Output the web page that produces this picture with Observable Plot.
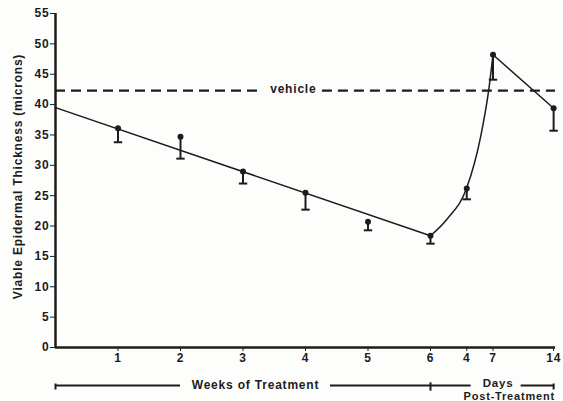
<!DOCTYPE html>
<html>
<head>
<meta charset="utf-8">
<script src="https://cdn.jsdelivr.net/npm/d3@7"></script>
<script src="https://cdn.jsdelivr.net/npm/@observablehq/plot@0.6"></script>
<style>
  html, body { margin: 0; padding: 0; background: #fdfdfc; }
  svg text { letter-spacing: 0.8px; }
</style>
</head>
<body>
<div id="chart"></div>
<script>
// ---- data ----
// axis positions (weeks 1-6, then days 4, 7, 14 post-treatment)
const tickPositions = [1, 2, 3, 4, 5, 6, 6.58, 7.0, 7.97];
const tickLabels    = ["1", "2", "3", "4", "5", "6", "4", "7", "14"];
const yTickValues   = [0, 5, 10, 15, 20, 25, 30, 35, 40, 45, 50, 55];

// mean viable epidermal thickness (microns) and lower error limit
const meanValues  = [36.1, 34.7, 29.0, 25.5, 20.7, 18.4, 26.2, 48.2, 39.4];
const lowerValues = [33.8, 31.1, 27.0, 22.7, 19.3, 17.1, 24.4, 44.1, 35.7];

// fitted treatment trend line
const trendX = [0, 6];
const trendY = [39.5, 18.4];
// recovery curve (traced)
const recoveryX = [6, 6.27, 6.58, 6.8, 6.93, 7.0];
const recoveryY = [18.4, 21.2, 26.3, 34.6, 42.3, 48.2];
// post-treatment decline
const postX = [7.0, 7.97];
const postY = [48.2, 39.4];

// vehicle reference level
const vehicleLevel = 42.3;
const vehicleLabel = "vehicle";
const vehicleSegments = [[0, 3.28], [4.27, 8.0]];

// bottom bracket annotation
const bracketSegments = [[0, 2.0], [4.4, 6.0], [6.0, 6.65], [7.45, 7.97]];
const bracketEnds = [0, 6, 7.97];
const bracketEndSizes = [6.5, 12.5, 6.5];
const yLabel = "Viable Epidermal Thickness (microns)";

// ---- build ----
const points = meanValues.map((v, i) => ({x: tickPositions[i], y: v, lo: lowerValues[i]}));
const toXY = (xs, ys) => xs.map((x, i) => ({x, y: ys[i]}));
const trend = toXY(trendX, trendY);
const recovery = toXY(recoveryX, recoveryY);
const post = toXY(postX, postY);
const vSegs = vehicleSegments.map(([a, b]) => ({x1: a, x2: b, y: vehicleLevel}));
const bSegs = bracketSegments.map(([a, b]) => ({x1: a, x2: b}));
const bEnds = bracketEnds.map((x, i) => ({x, r: bracketEndSizes[i]}));

const hline = {draw(ctx, size) { const r = Math.sqrt(size / Math.PI); ctx.moveTo(-r, 0); ctx.lineTo(r, 0); }};
const vline = {draw(ctx, size) { const r = Math.sqrt(size / Math.PI); ctx.moveTo(0, -r); ctx.lineTo(0, r); }};

const ink = "#1c1c1c";
const zero = () => 0;

const chart = Plot.plot({
  width: 563,
  height: 401,
  marginLeft: 55,
  marginRight: 8,
  marginTop: 13,
  marginBottom: 54,
  style: {fontFamily: "'Liberation Sans', Arial, sans-serif", fontSize: "12px", fontWeight: "bold", color: ink, background: "transparent"},
  x: {domain: [0, 8], ticks: tickPositions, tickFormat: d => tickLabels[tickPositions.indexOf(d)], tickSize: 4, tickPadding: 2, label: null},
  y: {domain: [0, 55], ticks: yTickValues, tickSize: 5, tickPadding: 1, label: null},
  marks: [
    // axis lines
    Plot.ruleX([0], {stroke: ink, strokeWidth: 2.5}),
    Plot.ruleY([0], {stroke: ink, strokeWidth: 2.5}),
    // vehicle dashed line
    Plot.ruleY(vSegs, {y: "y", x1: "x1", x2: "x2", stroke: ink, strokeWidth: 2.2, strokeDasharray: "10,6"}),
    Plot.text([vehicleLabel], {x: (vehicleSegments[0][1] + vehicleSegments[1][0]) / 2 + 0.03, y: vehicleLevel, fill: ink, fontSize: 12, dy: -1}),
    // lines
    Plot.line(trend, {x: "x", y: "y", stroke: ink, strokeWidth: 1.5}),
    Plot.line(recovery, {x: "x", y: "y", stroke: ink, strokeWidth: 1.5, curve: "monotone-x"}),
    Plot.line(post, {x: "x", y: "y", stroke: ink, strokeWidth: 1.5}),
    // error bars
    Plot.ruleX(points, {x: "x", y1: "y", y2: "lo", stroke: ink, strokeWidth: 2}),
    Plot.dot(points, {x: "x", y: "lo", symbol: hline, r: 4.2, stroke: ink, strokeWidth: 2}),
    Plot.dot(points, {x: "x", y: "y", r: 3, fill: ink}),
    // y axis label
    Plot.text([yLabel], {frameAnchor: "left", textAnchor: "middle", rotate: -90, dx: -37, dy: -4, fill: ink, fontSize: 12}),
    // bottom bracket
    Plot.ruleY(bSegs, {x1: "x1", x2: "x2", y: zero, dy: 38, stroke: ink, strokeWidth: 2}),
    Plot.dot(bEnds, {x: "x", y: zero, r: "r", dy: 39, symbol: vline, stroke: ink, strokeWidth: 2}),
    Plot.text(["Weeks of Treatment"], {x: (bracketSegments[0][1] + bracketSegments[1][0]) / 2, y: zero, dy: 38, fill: ink, fontSize: 12}),
    Plot.text(["Days"], {x: (bracketSegments[2][1] + bracketSegments[3][0]) / 2 + 0.03, y: zero, dy: 35.5, fill: ink, fontSize: 11.5}),
    Plot.text(["Post-Treatment"], {x: 7.99, y: zero, dy: 49, textAnchor: "end", fill: ink, fontSize: 11})
  ]
});
document.getElementById("chart").appendChild(chart);
</script>
</body>
</html>
